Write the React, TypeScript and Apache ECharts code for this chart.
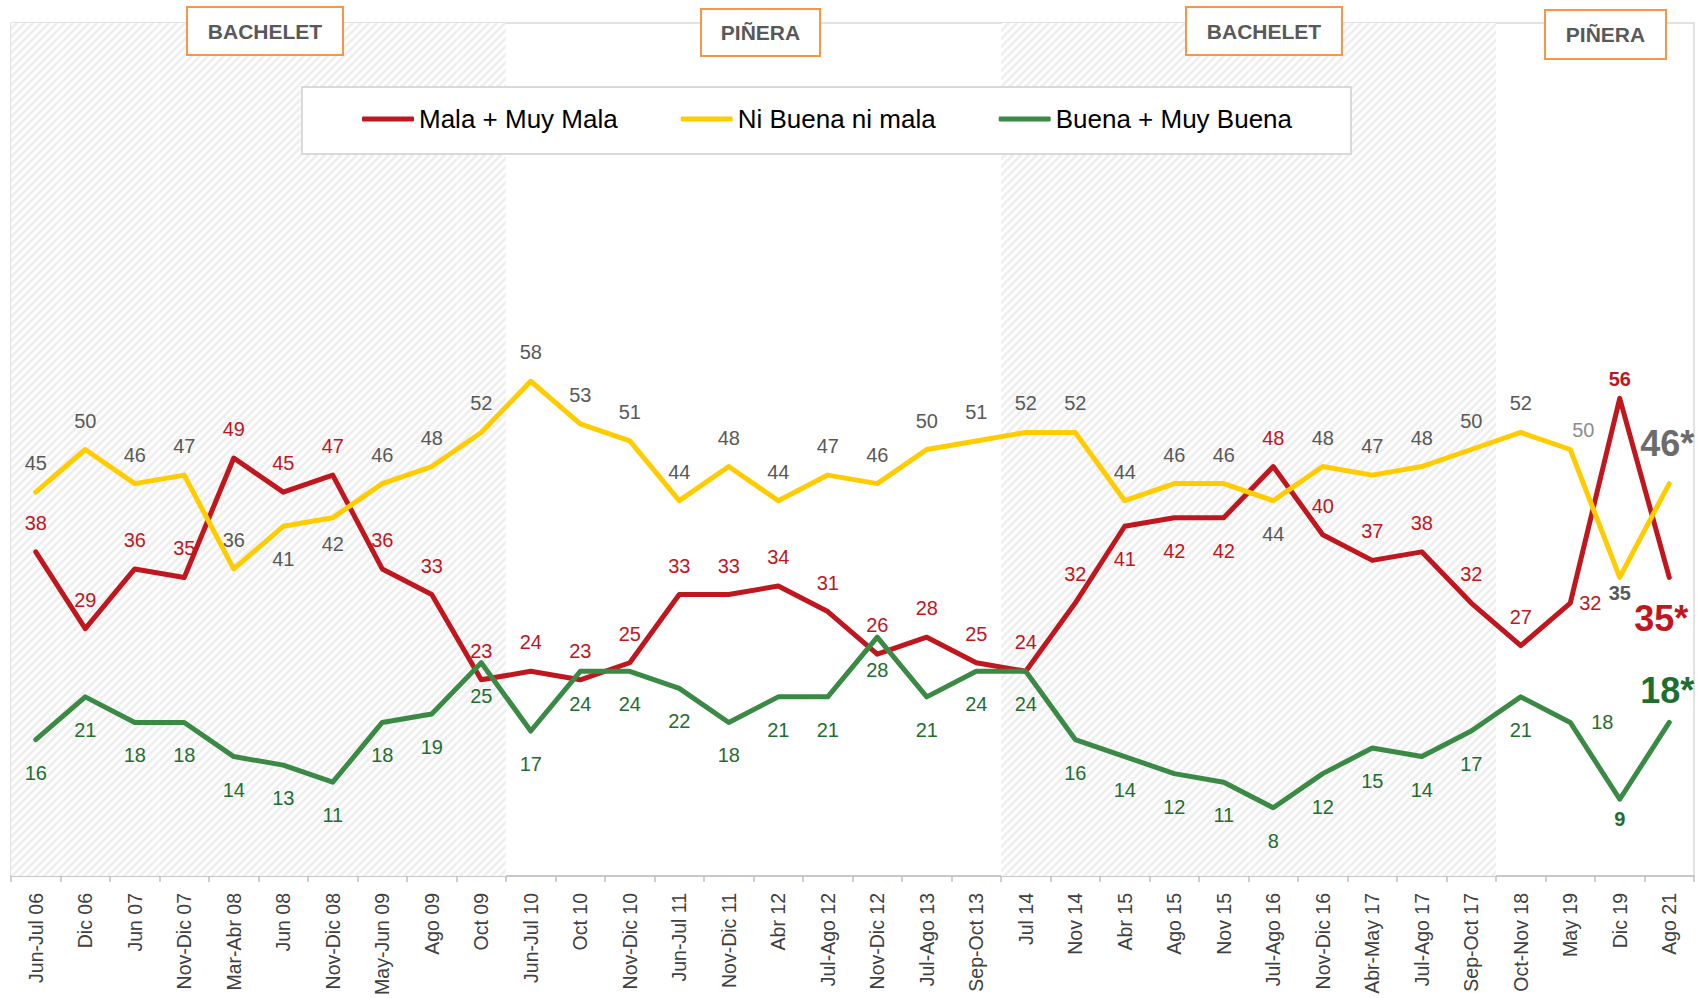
import React, { useEffect, useRef } from 'react';
import * as echarts from 'echarts';

const categories = [
  'Jun-Jul 06', 'Dic 06', 'Jun 07', 'Nov-Dic 07', 'Mar-Abr 08', 'Jun 08', 'Nov-Dic 08', 'May-Jun 09',
  'Ago 09', 'Oct 09', 'Jun-Jul 10', 'Oct 10', 'Nov-Dic 10', 'Jun-Jul 11', 'Nov-Dic 11', 'Abr 12',
  'Jul-Ago 12', 'Nov-Dic 12', 'Jul-Ago 13', 'Sep-Oct 13', 'Jul 14', 'Nov 14', 'Abr 15', 'Ago 15',
  'Nov 15', 'Jul-Ago 16', 'Nov-Dic 16', 'Abr-May 17', 'Jul-Ago 17', 'Sep-Oct 17', 'Oct-Nov 18',
  'May 19', 'Dic 19', 'Ago 21',
];
const malaMuyMala = [38, 29, 36, 35, 49, 45, 47, 36, 33, 23, 24, 23, 25, 33, 33, 34, 31, 26, 28, 25, 24, 32, 41, 42, 42, 48, 40, 37, 38, 32, 27, 32, 56, 35];
const niBuenaNiMala = [45, 50, 46, 47, 36, 41, 42, 46, 48, 52, 58, 53, 51, 44, 48, 44, 47, 46, 50, 51, 52, 52, 44, 46, 46, 44, 48, 47, 48, 50, 52, 50, 35, 46];
const buenaMuyBuena = [16, 21, 18, 18, 14, 13, 11, 18, 19, 25, 17, 24, 24, 22, 18, 21, 21, 28, 21, 24, 24, 16, 14, 12, 11, 8, 12, 15, 14, 17, 21, 18, 9, 18];
const seriesNames = ['Mala + Muy Mala', 'Ni Buena ni mala', 'Buena + Muy Buena'];
const periods = [
  { name: 'BACHELET', first: 'Jun-Jul 06', last: 'Oct 09', shaded: true },
  { name: 'PIÑERA', first: 'Jun-Jul 10', last: 'Sep-Oct 13', shaded: false },
  { name: 'BACHELET', first: 'Jul 14', last: 'Sep-Oct 17', shaded: true },
  { name: 'PIÑERA', first: 'Oct-Nov 18', last: 'Ago 21', shaded: false },
];
const scaleMax = 100;

const FONT = "'Liberation Sans', Arial, sans-serif";
const RED = '#C0161E';
const YELLOW = '#FFCC00';
const GREEN = '#3A8A46';

// layout of header boxes (pixels)
const headerBoxes = [
  { x: 187, y: 7, w: 156, h: 48 },
  { x: 701, y: 9, w: 119, h: 47 },
  { x: 1186, y: 7, w: 156, h: 48 },
  { x: 1545, y: 10, w: 121, h: 49 },
];

const star = (p: any) => `${p.value}*`;

function build(values: number[], overrides: Record<number, any>) {
  return values.map((v, i) => (overrides[i] ? { value: v, label: overrides[i] } : v));
}

function makeHatch(): string {
  const c = document.createElement('canvas');
  const s = 8;
  c.width = s;
  c.height = s;
  const ctx = c.getContext('2d')!;
  ctx.fillStyle = '#ffffff';
  ctx.fillRect(0, 0, s, s);
  ctx.strokeStyle = '#efefef';
  ctx.lineWidth = 3;
  ctx.beginPath();
  ctx.moveTo(-2, s + 2);
  ctx.lineTo(s + 2, -2);
  ctx.moveTo(-2, 2);
  ctx.lineTo(2, -2);
  ctx.moveTo(s - 2, s + 2);
  ctx.lineTo(s + 2, s - 2);
  ctx.stroke();
  return c.toDataURL();
}

export default function App() {
  const ref = useRef<HTMLDivElement>(null);
  useEffect(() => {
    if (!ref.current) return;
    const chart = echarts.init(ref.current, null, { renderer: 'svg' });
    const idx = (c: string) => categories.indexOf(c);
    const shadeData = categories.map((_, i) =>
      periods.some((p) => p.shaded && i >= idx(p.first) && i <= idx(p.last)) ? scaleMax : '-'
    );

    const below = { position: 'bottom', distance: 22 };
    const redOv: Record<number, any> = {
      22: below, 23: below, 24: below,
      31: { position: 'right', distance: 8 },
      32: { fontWeight: 'bold', distance: 8 },
      33: { position: 'bottom', distance: 22, fontSize: 36, fontWeight: 'bold', offset: [-8, 0], formatter: star },
    };
    const yelOv: Record<number, any> = {
      5: below, 6: { position: 'bottom', distance: 15 }, 25: below,
      31: { distance: 9, offset: [13, 0], color: '#8c8c8c' },
      32: { position: 'bottom', distance: 5, fontWeight: 'bold' },
      33: { distance: 21, fontSize: 36, fontWeight: 'bold', offset: [-2, 0], color: '#6b6b6b', formatter: star },
    };
    const greOv: Record<number, any> = {
      31: { position: 'right', distance: 20 },
      32: { fontWeight: 'bold', distance: 9 },
      33: { position: 'top', distance: 13, fontSize: 36, fontWeight: 'bold', offset: [-2, 0], formatter: star },
    };

    const lineBase = (name: string, color: string, data: any[], labelColor: string, pos: string, dist: number) => ({
      name,
      type: 'line',
      data,
      z: 3,
      symbol: 'circle',
      symbolSize: 2,
      showSymbol: true,
      showAllSymbol: true,
      itemStyle: { color },
      lineStyle: { color, width: 5, cap: 'round', join: 'round' },
      label: {
        show: true,
        position: pos,
        distance: dist,
        color: labelColor,
        fontSize: 20,
        fontFamily: FONT,
      },
      emphasis: { disabled: true },
    });

    const graphics: any[] = [
      {
        type: 'rect',
        z: 3,
        shape: { x: 302, y: 87, width: 1049, height: 67 },
        style: { fill: '#ffffff', stroke: '#d9d9d9', lineWidth: 2 },
      },
      ...headerBoxes.map((b, i) => ({
        type: 'group',
        z: 10,
        children: [
          {
            type: 'rect',
            z: 10,
            shape: { x: b.x, y: b.y, width: b.w, height: b.h },
            style: { fill: '#ffffff', stroke: '#F79646', lineWidth: 2 },
          },
          {
            type: 'text',
            z: 11,
            x: b.x + b.w / 2,
            y: b.y + b.h / 2,
            style: {
              text: periods[i].name,
              fill: '#595959',
              font: `bold 21px ${FONT}`,
              textAlign: 'center',
              textVerticalAlign: 'middle',
            },
          },
        ],
      })),
    ];

    chart.setOption({
      animation: false,
      backgroundColor: '#ffffff',
      grid: {
        left: 11,
        right: 3,
        top: 23,
        bottom: 122,
        containLabel: false,
        outerBoundsMode: 'none',
        show: true,
        borderColor: '#d9d9d9',
        borderWidth: 1.5,
        backgroundColor: 'transparent',
      },
      legend: {
        data: seriesNames,
        left: 362,
        top: 106,
        padding: 0,
        itemWidth: 52,
        itemHeight: 5,
        itemGap: 63,
        icon: 'roundRect',
        z: 5,
        selectedMode: false,
        textStyle: { fontSize: 26, color: '#000000', fontFamily: FONT },
      },
      xAxis: {
        type: 'category',
        data: categories,
        boundaryGap: true,
        axisLine: { lineStyle: { color: '#bfbfbf', width: 1.5 } },
        axisTick: { show: true, length: 6, lineStyle: { color: '#bfbfbf', width: 1.5 } },
        axisLabel: {
          interval: 0,
          rotate: 90,
          margin: 17,
          fontSize: 19.5,
          color: '#404040',
          fontFamily: FONT,
        },
      },
      yAxis: {
        type: 'value',
        min: 0,
        max: scaleMax,
        show: false,
        splitLine: { show: false },
      },
      series: [
        {
          name: 'shade',
          type: 'bar',
          data: shadeData,
          z: 1,
          silent: true,
          barWidth: '100%',
          barCategoryGap: '0%',
          itemStyle: {
            color: { image: makeHatch(), repeat: 'repeat', imageWidth: 8, imageHeight: 8 },
          },
          label: { show: false },
          emphasis: { disabled: true },
        },
        lineBase(seriesNames[0], RED, build(malaMuyMala, redOv), RED, 'top', 18),
        lineBase(seriesNames[1], YELLOW, build(niBuenaNiMala, yelOv), '#595959', 'top', 18),
        lineBase(seriesNames[2], GREEN, build(buenaMuyBuena, greOv), '#1F6E31', 'bottom', 22),
      ],
      graphic: graphics,
    });
    return () => chart.dispose();
  }, []);
  return (
    <div
      ref={ref}
      style={{ position: 'absolute', left: 0, top: 0, width: 1697, height: 998 }}
    />
  );
}
